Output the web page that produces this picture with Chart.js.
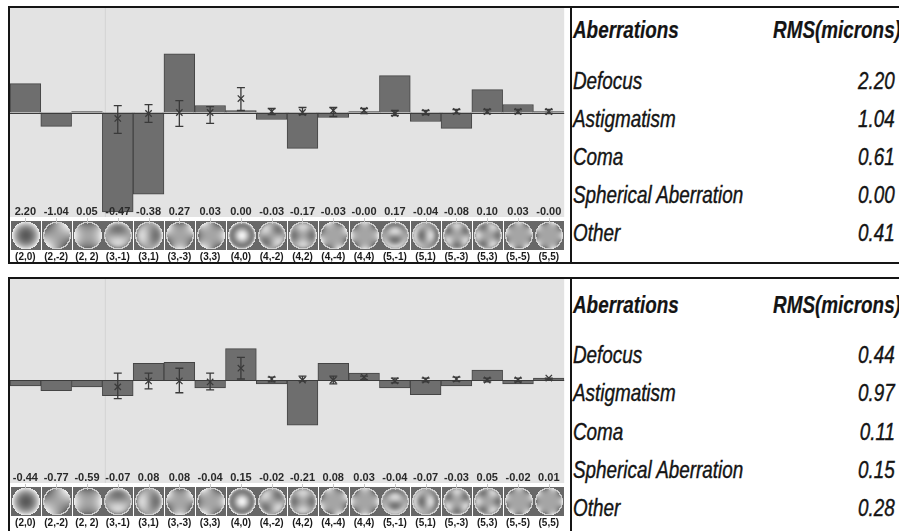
<!DOCTYPE html>
<html><head><meta charset="utf-8">
<script src="https://cdn.jsdelivr.net/npm/chart.js@4.4.0/dist/chart.umd.min.js"></script>
<style>
html,body{margin:0;padding:0;background:#fff;width:899px;height:531px;overflow:hidden;position:relative;font-family:"Liberation Sans",Arial,sans-serif}
canvas{position:absolute;left:0}
.frame{position:absolute;left:8px;width:900px;border:2px solid #151515;box-sizing:border-box;z-index:2;pointer-events:none}
.vdiv{position:absolute;left:570px;width:2px;background:#151515;z-index:2}
.t{position:absolute;font-size:23px;line-height:23px;font-style:italic;color:#141414;white-space:nowrap;-webkit-text-stroke:0.4px #141414}
.l{left:573px;transform:scaleX(0.82);transform-origin:0 0}
.r{right:4px;transform:scaleX(0.82);transform-origin:100% 0;text-align:right}
.b{font-weight:bold;-webkit-text-stroke:0.2px #141414}
</style></head><body>
<canvas id="c1" width="570" height="265" style="top:0"></canvas>
<canvas id="c2" width="570" height="262" style="top:269px"></canvas>
<div class="frame" style="top:6px;height:258px"></div>
<div class="vdiv" style="top:6px;height:258px"></div>
<div class="frame" style="top:277px;height:270px"></div>
<div class="vdiv" style="top:277px;height:260px"></div>
<div id="tables"></div>
<script>
// ---- data ----
const categories = ["(2,0)","(2,-2)","(2, 2)","(3,-1)","(3,1)","(3,-3)","(3,3)","(4,0)","(4,-2)","(4,2)","(4,-4)","(4,4)","(5,-1)","(5,1)","(5,-3)","(5,3)","(5,-5)","(5,5)"];

// panel 1 (top)
const barsTop   = [0.29,-0.14,0.01,-1.00,-0.82,0.59,0.07,0.02,-0.07,-0.36,-0.05,0.01,0.37,-0.09,-0.16,0.23,0.08,0.01];
const markTop   = [null,null,null,-0.06,-0.01,0.00,0.00,0.14,0.01,0.00,0.02,0.02,-0.01,0.00,0.01,0.01,0.01,0.01];
const errHiTop  = [null,null,null,0.07,0.08,0.12,0.06,0.25,0.04,0.05,0.05,0.04,0.02,0.02,0.03,0.03,0.03,0.03];
const errLoTop  = [null,null,null,-0.21,-0.10,-0.14,-0.11,0.02,-0.02,-0.02,-0.04,-0.01,-0.03,-0.02,-0.01,-0.01,-0.01,-0.01];
const labelsTop = ["2.20","-1.04","0.05","-0.47","-0.38","0.27","0.03","0.00","-0.03","-0.17","-0.03","-0.00","0.17","-0.04","-0.08","0.10","0.03","-0.00"];

// panel 2 (bottom)
const barsBot   = [-0.06,-0.11,-0.07,-0.16,0.17,0.18,-0.08,0.32,-0.04,-0.46,0.17,0.07,-0.08,-0.15,-0.06,0.10,-0.04,0.02];
const markBot   = [null,null,null,-0.07,-0.01,-0.01,-0.02,0.12,0.01,0.00,0.00,0.03,-0.01,0.00,0.01,0.00,0.00,0.02];
const errHiBot  = [null,null,null,0.07,0.07,0.12,0.07,0.23,0.03,0.04,0.04,0.04,0.02,0.02,0.03,0.02,0.02,0.02];
const errLoBot  = [null,null,null,-0.19,-0.09,-0.13,-0.10,0.01,-0.02,-0.01,-0.04,0.00,-0.03,-0.02,-0.01,-0.02,-0.02,0.00];
const labelsBot = ["-0.44","-0.77","-0.59","-0.07","0.08","0.08","-0.04","0.15","-0.02","-0.21","0.08","0.03","-0.04","-0.07","-0.03","0.05","-0.02","0.01"];

// tables
const aberrationNames = ["Defocus","Astigmatism","Coma","Spherical Aberration","Other"];
const rmsTop = ["2.20","1.04","0.61","0.00","0.41"];
const rmsBot = ["0.44","0.97","0.11","0.15","0.28"];
const tableHeader = ["Aberrations","RMS(microns)"];

// ---- Zernike thumbnails ----
function zern(n,m,r,t){
  const a=Math.abs(m); let R=0;
  switch(n*10+a){
    case 20:R=2*r*r-1;break; case 22:R=r*r;break;
    case 31:R=3*r**3-2*r;break; case 33:R=r**3;break;
    case 40:R=6*r**4-6*r*r+1;break; case 42:R=4*r**4-3*r*r;break; case 44:R=r**4;break;
    case 51:R=10*r**5-12*r**3+3*r;break; case 53:R=5*r**5-4*r**3;break; case 55:R=r**5;break;
  }
  const A = m>0?Math.cos(a*t):(m<0?Math.sin(a*t):1);
  return R*A;
}
function drawThumb(ctx,x,y,w,h,label){
  const mm = label.match(/\((\d),\s*(-?\d)\)/);
  const n=+mm[1], m=+mm[2];
  const img = ctx.createImageData(w,h);
  const cx=(w-1)/2, cy=(h-1)/2, rad=Math.min(w,h)/2-0.5;
  for(let j=0;j<h;j++)for(let i=0;i<w;i++){
    const dx=(i-cx)/rad, dy=(cy-j)/rad, r=Math.sqrt(dx*dx+dy*dy);
    let v;
    if(r>1){ v=104; }
    else{
      const z=zern(n,m,r,Math.atan2(dy,dx));
      v=165+75*z;
      if(r>0.9) v=Math.max(v, 205);
    }
    const k=(j*w+i)*4; img.data[k]=img.data[k+1]=img.data[k+2]=Math.round(Math.min(250,v)); img.data[k+3]=255;
  }
  ctx.putImageData(img,Math.round(x),Math.round(y));
}

const panelPlugin = {
  id:'panel',
  beforeDraw(chart){
    const {ctx,chartArea:a}=chart;
    ctx.save();
    ctx.fillStyle='#e3e3e3';
    ctx.fillRect(a.left,a.top,a.right-a.left,a.bottom-a.top);
    const xs=chart.scales.x;
    const xb=(xs.getPixelForValue(2)+xs.getPixelForValue(3))/2+3;
    ctx.strokeStyle='#d4d4d4'; ctx.lineWidth=1;
    ctx.beginPath(); ctx.moveTo(xb,a.top); ctx.lineTo(xb,a.bottom); ctx.stroke();
    ctx.restore();
  },
  afterDatasetsDraw(chart,args,opts){
    const {ctx,chartArea:a,scales:{x,y}}=chart;
    ctx.save();
    const y0=Math.round(y.getPixelForValue(0))+0.5;
    ctx.strokeStyle='#3c3c3c'; ctx.lineWidth=1;
    ctx.beginPath(); ctx.moveTo(a.left,y0); ctx.lineTo(a.right,y0); ctx.stroke();
    ctx.strokeStyle='#3a3a3a'; ctx.lineWidth=1.3;
    opts.hi.forEach((h,i)=>{
      if(h==null) return;
      const px=x.getPixelForValue(i), yh=y.getPixelForValue(h), yl=y.getPixelForValue(opts.lo[i]);
      ctx.beginPath();
      ctx.moveTo(px,yh); ctx.lineTo(px,yl);
      ctx.moveTo(px-4,yh); ctx.lineTo(px+4,yh);
      ctx.moveTo(px-4,yl); ctx.lineTo(px+4,yl);
      ctx.stroke();
    });
    ctx.restore();
  },
  afterDraw(chart,args,opts){
    const {ctx,chartArea:a,scales:{x}}=chart;
    ctx.save();
    ctx.fillStyle='#2a2a2a';
    ctx.font='bold 11px "Liberation Sans", Arial, sans-serif';
    ctx.textAlign='center'; ctx.textBaseline='middle';
    opts.vals.forEach((v,i)=>ctx.fillText(v,x.getPixelForValue(i),a.bottom-5));
    const n=categories.length, cw=(a.right-a.left)/n;
    for(let i=0;i<n;i++){
      const l=a.left+i*cw;
      drawThumb(ctx,l+1,a.bottom+4,Math.round(cw)-1,29,categories[i]);
    }
    ctx.strokeStyle='#c8c8c8'; ctx.lineWidth=1;
    for(let i=0;i<n;i++){
      const px=Math.round(x.getPixelForValue(i))+0.5;
      ctx.beginPath(); ctx.moveTo(px,a.bottom+1); ctx.lineTo(px,a.bottom+7); ctx.stroke();
    }
    ctx.restore();
  }
};

function makeChart(id,bars,marks,lo,hi,vals){
  return new Chart(document.getElementById(id),{
    type:'bar',
    data:{labels:categories,datasets:[
      {type:'line',data:marks,showLine:false,pointStyle:'crossRot',pointRadius:4.5,pointBorderWidth:1.3,borderColor:'#3a3a3a',backgroundColor:'#3a3a3a',order:0},
      {type:'bar',data:bars,backgroundColor:'#6e6e6e',borderColor:'#454545',borderWidth:1,barPercentage:1,categoryPercentage:1,order:1}
    ]},
    options:{
      responsive:false,animation:false,events:[],
      layout:{padding:{left:10,top:8,right:0,bottom:0}},
      plugins:{legend:{display:false},tooltip:{enabled:false},panel:{lo:lo,hi:hi,vals:vals}},
      scales:{
        x:{grid:{display:false,drawTicks:false,tickLength:0},border:{display:false},
           ticks:{autoSkip:false,maxRotation:0,minRotation:0,padding:34,color:'#1a1a1a',
                  font:{family:'"Liberation Sans", Arial, sans-serif',weight:'bold',size:10}},
           afterFit(s){s.height=48;s.paddingLeft=0;s.paddingRight=0;}},
        y:{display:false,min:-1.05,max:1.05}
      }
    },
    plugins:[panelPlugin]
  });
}
makeChart('c1',barsTop,markTop,errLoTop,errHiTop,labelsTop);
makeChart('c2',barsBot,markBot,errLoBot,errHiBot,labelsBot);

// tables
function buildTable(headerBase, rowBases, vals){
  const box=document.getElementById('tables');
  const add=(cls,txt,base)=>{const d=document.createElement('div');d.className='t '+cls;d.textContent=txt;d.style.top=(base-19.5)+'px';box.appendChild(d);return d;};
  add('l b',tableHeader[0],headerBase);
  const h=add('r b',tableHeader[1],headerBase); h.style.right='-2px';
  aberrationNames.forEach((nm,i)=>{add('l',nm,rowBases[i]);add('r',vals[i],rowBases[i]);});
}
buildTable(38,[89,127,165,203,241],rmsTop);
buildTable(313,[363,401,440,478,516],rmsBot);
</script>
</body></html>
